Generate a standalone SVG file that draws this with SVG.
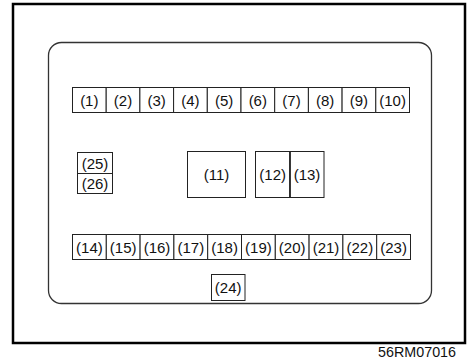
<svg xmlns="http://www.w3.org/2000/svg" width="467" height="364" viewBox="0 0 467 364">
<style>
.cell{fill:#fff;stroke:#222;stroke-width:1}
.lbl{font-family:"Liberation Sans",Arial,sans-serif;font-size:15px;fill:#111;text-anchor:middle}
</style>
<rect x="0" y="0" width="467" height="364" fill="#fff"/>
<rect id="frame" x="13" y="4" width="452" height="339" fill="none" stroke="#000" stroke-width="2.5"/>
<rect id="panel" x="48.5" y="42.5" width="383" height="261" rx="13" fill="none" stroke="#333" stroke-width="1.3"/>
<g id="row-top">
<g id="n1"><rect class="cell" x="72.5" y="87.5" width="33.7" height="25"/><text class="lbl" x="89.3" y="105.5">(1)</text></g>
<g id="n2"><rect class="cell" x="106.2" y="87.5" width="33.7" height="25"/><text class="lbl" x="123" y="105.5">(2)</text></g>
<g id="n3"><rect class="cell" x="139.9" y="87.5" width="33.7" height="25"/><text class="lbl" x="156.7" y="105.5">(3)</text></g>
<g id="n4"><rect class="cell" x="173.6" y="87.5" width="33.7" height="25"/><text class="lbl" x="190.4" y="105.5">(4)</text></g>
<g id="n5"><rect class="cell" x="207.3" y="87.5" width="33.7" height="25"/><text class="lbl" x="224.1" y="105.5">(5)</text></g>
<g id="n6"><rect class="cell" x="241" y="87.5" width="33.7" height="25"/><text class="lbl" x="257.8" y="105.5">(6)</text></g>
<g id="n7"><rect class="cell" x="274.7" y="87.5" width="33.7" height="25"/><text class="lbl" x="291.5" y="105.5">(7)</text></g>
<g id="n8"><rect class="cell" x="308.4" y="87.5" width="33.7" height="25"/><text class="lbl" x="325.2" y="105.5">(8)</text></g>
<g id="n9"><rect class="cell" x="342.1" y="87.5" width="33.7" height="25"/><text class="lbl" x="358.9" y="105.5">(9)</text></g>
<g id="n10"><rect class="cell" x="375.8" y="87.5" width="33.7" height="25"/><text class="lbl" x="392.6" y="105.5">(10)</text></g>
</g>
<g id="n25"><rect class="cell" x="77.5" y="152.5" width="35" height="21"/><text class="lbl" x="95" y="168.5">(25)</text></g>
<g id="n26"><rect class="cell" x="77.5" y="173.5" width="35" height="20"/><text class="lbl" x="95" y="189">(26)</text></g>
<g id="n11"><rect class="cell" x="187.5" y="151.5" width="58" height="46"/><text class="lbl" x="216.5" y="179.5">(11)</text></g>
<g id="n12"><rect class="cell" x="255.5" y="151.5" width="34.5" height="46"/><text class="lbl" x="272.7" y="179.5">(12)</text></g>
<g id="n13"><rect class="cell" x="290" y="151.5" width="34" height="46" style="stroke-width:1"/><line x1="290" y1="151.5" x2="290" y2="197.5" stroke="#222" stroke-width="1.6"/><text class="lbl" x="307" y="179.5">(13)</text></g>
<g id="row-bottom">
<g id="n14"><rect class="cell" x="72.5" y="234.5" width="33.8" height="25"/><text class="lbl" x="89.4" y="252.5">(14)</text></g>
<g id="n15"><rect class="cell" x="106.3" y="234.5" width="33.8" height="25"/><text class="lbl" x="123.2" y="252.5">(15)</text></g>
<g id="n16"><rect class="cell" x="140.1" y="234.5" width="33.8" height="25"/><text class="lbl" x="157" y="252.5">(16)</text></g>
<g id="n17"><rect class="cell" x="173.9" y="234.5" width="33.8" height="25"/><text class="lbl" x="190.8" y="252.5">(17)</text></g>
<g id="n18"><rect class="cell" x="207.7" y="234.5" width="33.8" height="25"/><text class="lbl" x="224.6" y="252.5">(18)</text></g>
<g id="n19"><rect class="cell" x="241.5" y="234.5" width="33.8" height="25"/><text class="lbl" x="258.4" y="252.5">(19)</text></g>
<g id="n20"><rect class="cell" x="275.3" y="234.5" width="33.8" height="25"/><text class="lbl" x="292.2" y="252.5">(20)</text></g>
<g id="n21"><rect class="cell" x="309.1" y="234.5" width="33.8" height="25"/><text class="lbl" x="326" y="252.5">(21)</text></g>
<g id="n22"><rect class="cell" x="342.9" y="234.5" width="33.8" height="25"/><text class="lbl" x="359.8" y="252.5">(22)</text></g>
<g id="n23"><rect class="cell" x="376.7" y="234.5" width="33.8" height="25"/><text class="lbl" x="393.6" y="252.5">(23)</text></g>
</g>
<g id="n24"><rect class="cell" x="211.5" y="274.5" width="33.5" height="26"/><text class="lbl" x="228.2" y="292.5">(24)</text></g>
<g id="connectors"></g>
<text x="456" y="357" font-family="'Liberation Sans',Arial,sans-serif" font-size="14.3" fill="#111" text-anchor="end">56RM07016</text>
</svg>
